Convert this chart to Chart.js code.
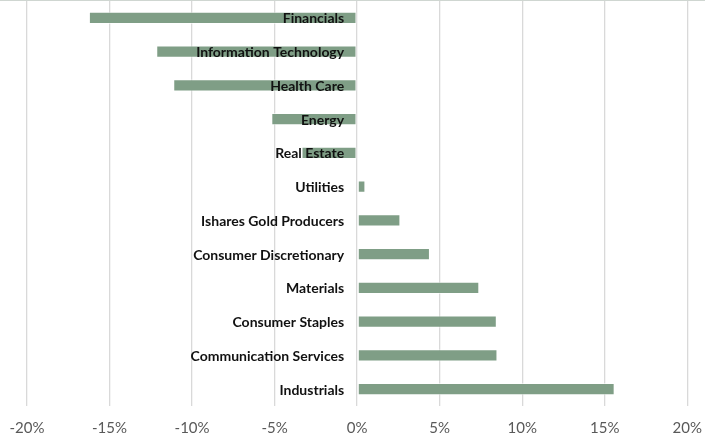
<!DOCTYPE html>
<html>
<head>
<meta charset="utf-8">
<script src="https://cdn.jsdelivr.net/npm/chart.js@4"></script>
<style>
  html, body { margin: 0; padding: 0; background: #fff; overflow: hidden; }
  #wrap { position: relative; width: 705px; height: 439px; box-sizing: border-box; border-top: 1px solid #cfd6d1; }
  canvas { display: block; }
</style>
</head>
<body>
<div id="wrap"><canvas id="c" width="705" height="438" style="width:705px;height:438px"></canvas></div>
<script>
const categories = [
  "Financials", "Information Technology", "Health Care", "Energy", "Real Estate",
  "Utilities", "Ishares Gold Producers", "Consumer Discretionary", "Materials",
  "Consumer Staples", "Communication Services", "Industrials"
];
const returns = [-16.25, -12.17, -11.14, -5.2, -3.37, 0.5, 2.62, 4.41, 7.4, 8.46, 8.5, 15.6];
const xMin = -20, xMax = 20, xStep = 5;

const axisLabels = {
  id: 'axisLabels',
  afterDatasetsDraw(chart) {
    const ctx = chart.ctx;
    const xs = chart.scales.x, ys = chart.scales.y;
    const x0 = xs.getPixelForValue(0);
    ctx.save();
    ctx.font = 'bold 14px Lato, "Open Sans", sans-serif';
    ctx.fillStyle = '#111';
    ctx.textAlign = 'right';
    ctx.textBaseline = 'middle';
    chart.data.labels.forEach((lab, i) => {
      ctx.fillText(lab, x0 - 13, ys.getPixelForValue(i) + 1);
    });
    ctx.restore();
  }
};

new Chart(document.getElementById('c'), {
  type: 'bar',
  data: {
    labels: categories,
    datasets: [{
      data: returns,
      backgroundColor: '#7f9e86',
      borderColor: 'rgba(255,255,255,0.55)',
      borderWidth: 1,
      borderSkipped: false,
      barPercentage: 0.36,
      categoryPercentage: 1.0
    }]
  },
  options: {
    indexAxis: 'y',
    responsive: false,
    maintainAspectRatio: false,
    animation: false,
    layout: { padding: { left: 27, right: 16, top: 0, bottom: 0 } },
    plugins: { legend: { display: false }, tooltip: { enabled: false } },
    scales: {
      x: {
        min: xMin, max: xMax,
        grid: { color: '#d9d9d9', lineWidth: 1.3, drawTicks: true, tickLength: 12, tickColor: 'rgba(0,0,0,0)' },
        border: { display: false },
        ticks: {
          stepSize: xStep,
          padding: 3,
          color: '#595959',
          font: { family: 'Lato, "Open Sans", sans-serif', size: 15, lineHeight: 1.0 },
          callback: v => v + '%'
        }
      },
      y: {
        display: false
      }
    }
  },
  plugins: [axisLabels]
});
</script>
</body>
</html>
